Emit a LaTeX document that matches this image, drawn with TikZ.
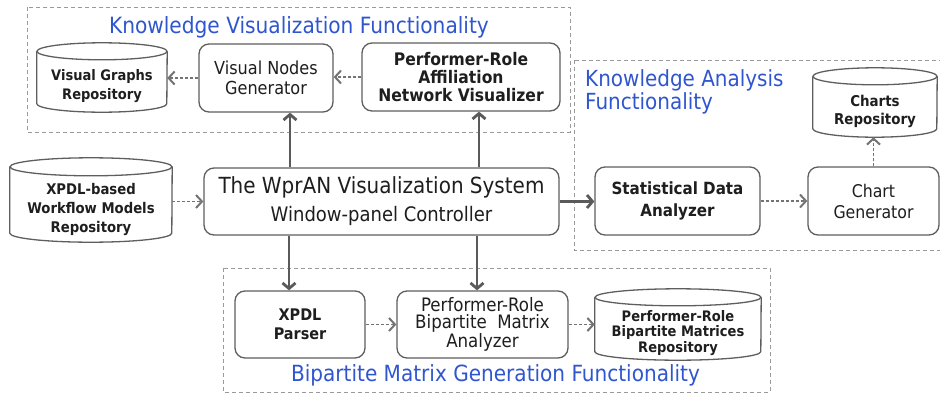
\documentclass[tikz,border=0pt]{standalone}
\usepackage{fontspec}
\setmainfont{DejaVu Sans Condensed}[BoldFont={DejaVu Sans Condensed Bold}]
\usetikzlibrary{arrows.meta,calc}
\definecolor{frame}{HTML}{5E5E5E}
\definecolor{groupline}{HTML}{9A9A9A}
\definecolor{titleblue}{HTML}{2F55CF}
\definecolor{ink}{HTML}{1E1E1E}
\definecolor{flow}{HTML}{5A5A5A}
\definecolor{dflow}{HTML}{737373}

% outline of a vertical cylinder around a repository node
% #1 node name, #2 x radius, #3 y radius of the end ellipses
\newcommand\repooutline[3]{%
  \draw[repoline] ($(#1.north)+(0,#3)$) ellipse [x radius=#2, y radius=#3];
  \draw[repoline] ($(#1.north west)+(0,#3)$) -- ($(#1.south west)+(0,#3)$)
    arc[start angle=180, end angle=360, x radius=#2, y radius=#3]
    -- ($(#1.north east)+(0,#3)$);
}

\begin{document}
\begin{tikzpicture}[x=1pt,y=1pt,
  box/.style={draw=frame, line width=1.3pt, rounded corners=10pt, fill=white,
    align=center, text=ink, inner sep=0pt},
  repotext/.style={align=center, text=ink, inner sep=0pt},
  repoline/.style={draw=frame, line width=1.3pt},
  group/.style={draw=groupline, line width=1pt, dash pattern=on 4pt off 3pt},
  grouptitle/.style={text=titleblue, inner sep=0pt},
  mainflow/.style={draw=flow, line width=2.8pt,
    -{Straight Barb[length=5.5pt,width=13pt]}},
  dataflow/.style={draw=dflow, line width=1.1pt, dash pattern=on 3pt off 2pt,
    -{Straight Barb[length=6pt,width=13pt,line width=2pt]}},
]
\useasboundingbox (0,0) rectangle (940,-394);

% functional groups
\draw[group] (27,-7) rectangle (570,-132);
\draw[group] (574,-60) rectangle (950,-250);
\draw[group] (223,-268) rectangle (770,-392);

\node[grouptitle, font=\fontsize{22.4}{26}\selectfont] (kvtitle) at (299,-27)
  {Knowledge Visualization Functionality};
\node[grouptitle, anchor=west, align=left, font=\fontsize{22.2}{23.5}\selectfont] (katitle) at (585,-92)
  {Knowledge Analysis\\Functionality};
\node[grouptitle, font=\fontsize{22.3}{26}\selectfont] (bmtitle) at (495.5,-375)
  {Bipartite Matrix Generation Functionality};

% processing components
\node[box, minimum width=134pt, minimum height=68pt,
  font=\fontsize{17.9}{20}\selectfont] (vng) at (266,-78) {Visual Nodes\\Generator};
\node[box, minimum width=198pt, minimum height=68pt,
  font=\bfseries\fontsize{17.3}{18.4}\selectfont] (pranv) at (461,-77)
  {Performer-Role\\Affiliation\\Network Visualizer};
\node[box, minimum width=355pt, minimum height=67pt,
  font=\fontsize{20}{28}\selectfont] (main) at (381.5,-201.5)
  {{\fontsize{22.2}{28}\selectfont The WprAN Visualization System}\\Window-panel Controller};
\node[box, minimum width=165pt, minimum height=68pt,
  font=\bfseries\fontsize{16.8}{22}\selectfont] (sda) at (677.5,-201) {Statistical Data\\Analyzer};
\node[box, minimum width=131pt, minimum height=68pt,
  font=\fontsize{17.5}{21}\selectfont] (cg) at (873.5,-201) {Chart\\Generator};
\node[box, minimum width=130pt, minimum height=67pt,
  font=\bfseries\fontsize{16}{19}\selectfont] (parser) at (300,-324.5) {XPDL\\Parser};
\node[box, minimum width=171pt, minimum height=67pt,
  font=\fontsize{18.5}{17.5}\selectfont] (prbma) at (482.5,-324.5)
  {Performer-Role\\Bipartite\ \ Matrix\\Analyzer};

% repositories (body of each cylinder, outline drawn afterwards)
\node[repotext, minimum width=130pt, minimum height=52pt,
  font=\bfseries\fontsize{14.5}{18.5}\selectfont] (vgr) at (102,-86) {Visual Graphs\\Repository};
\node[repotext, minimum width=162pt, minimum height=66pt,
  font=\bfseries\fontsize{14.7}{19}\selectfont] (xpdl) at (91,-209)
  {XPDL-based\\Workflow Models\\Repository};
\node[repotext, minimum width=124pt, minimum height=52pt,
  font=\bfseries\fontsize{14.9}{18}\selectfont] (charts) at (875,-111) {Charts\\Repository};
\node[repotext, minimum width=166pt, minimum height=54pt,
  font=\bfseries\fontsize{14.5}{15.5}\selectfont] (prbmr) at (678,-333)
  {Performer-Role\\Bipartite Matrices\\Repository};

\repooutline{vgr}{65}{8.5}
\repooutline{xpdl}{81}{9}
\repooutline{charts}{62}{8.5}
\repooutline{prbmr}{83}{8.5}

% control flow from the window-panel controller
\coordinate (upl) at (290,0);
\coordinate (upr) at (479,0);
\coordinate (dnl) at (289,0);
\coordinate (dnr) at (477,0);
\draw[mainflow] (main.north -| upl) -- (vng.south -| upl);
\draw[mainflow] (main.north -| upr) -- (pranv.south -| upr);
\draw[mainflow] (main.south -| dnl) -- (parser.north -| dnl);
\draw[mainflow] (main.south -| dnr) -- (prbma.north -| dnr);
\draw[mainflow] (main.east) -- (main.east -| sda.west);

% data flow
\draw[dataflow] (vng.west) -- (vng.west -| vgr.east);
\draw[dataflow] (pranv.west) -- (pranv.west -| vng.east);
\draw[dataflow] (main.west -| xpdl.east) -- (main.west);
\draw[dataflow] (sda.east) -- (cg.west);
\draw[dataflow] (cg.north) -- (cg.north |- charts.south);
\draw[dataflow] (parser.east) -- (prbma.west);
\draw[dataflow] (prbma.east) -- (prbma.east -| prbmr.west);
\end{tikzpicture}
\end{document}
